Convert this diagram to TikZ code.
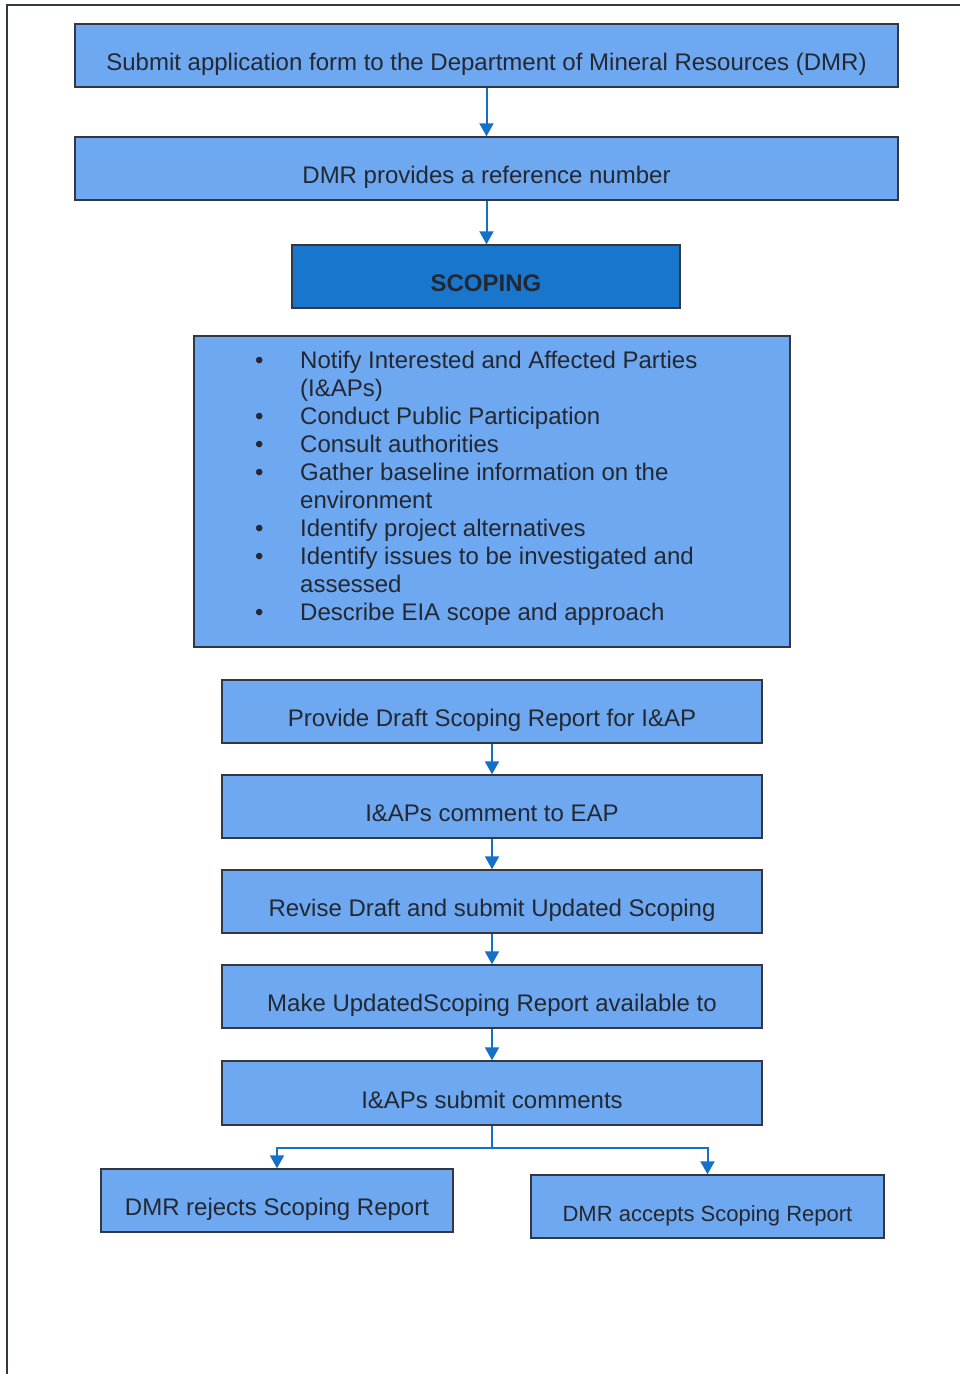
\documentclass[tikz,border=0pt]{standalone}
\usepackage{fontspec}
\setmainfont{Liberation Sans}
\usetikzlibrary{arrows.meta}
\definecolor{boxblue}{RGB}{110,168,240}
\definecolor{darkblue}{RGB}{25,118,205}
\definecolor{arrowblue}{RGB}{20,112,200}
\definecolor{txt}{RGB}{35,40,50}
\definecolor{edge}{RGB}{50,55,65}
\begin{document}
\begin{tikzpicture}[x=1pt,y=-1pt,
  box/.style={draw=edge, line width=1.4pt, fill=boxblue, inner sep=0pt, text=txt,
    font=\fontsize{24}{28}\selectfont, text height=35pt, text depth=5pt, minimum height=63pt},
  flow/.style={draw=arrowblue, line width=2pt, -{Triangle[width=14pt,length=13pt]}},
  frame/.style={draw=edge, line width=1.5pt}
]
\useasboundingbox (0,0) rectangle (960,1374);
\fill[white] (0,0) rectangle (960,1374);
\draw[frame] (7,1374) -- (7,5) -- (960,5);

\node[box, minimum width=823pt] (submit) at (486.5,55.5) {Submit application form to the Department of Mineral Resources (DMR)};
\node[box, minimum width=823pt] (ref) at (486.5,168.5) {DMR provides a reference number};
\node[box, minimum width=388pt, fill=darkblue, font=\fontsize{24}{28}\selectfont\bfseries] (scoping) at (486,276.5) {SCOPING};
\node[box, minimum width=596pt, minimum height=311pt] (list) at (492,491.5) {};
\node[anchor=north west, inner sep=0pt, text=txt, font=\fontsize{24}{28}\selectfont] (listtext) at (255,349) {%
\begin{tabular}{@{}p{45pt}@{}l@{}}
\textbullet & Notify Interested and Affected Parties\\
 & (I\&APs)\\
\textbullet & Conduct Public Participation\\
\textbullet & Consult authorities\\
\textbullet & Gather baseline information on the\\
 & environment\\
\textbullet & Identify project alternatives\\
\textbullet & Identify issues to be investigated and\\
 & assessed\\
\textbullet & Describe EIA scope and approach
\end{tabular}};
\node[box, minimum width=540pt] (draft) at (492,711.5) {Provide Draft Scoping Report for I\&AP};
\node[box, minimum width=540pt] (comment) at (492,806.5) {I\&APs comment to EAP};
\node[box, minimum width=540pt] (revise) at (492,901.5) {Revise Draft and submit Updated Scoping};
\node[box, minimum width=540pt] (make) at (492,996.5) {Make UpdatedScoping Report available to};
\node[box, minimum width=540pt, minimum height=64pt] (submitc) at (492,1093) {I\&APs submit comments};
\node[box, minimum width=352pt] (reject) at (277,1200.5) {DMR rejects Scoping Report};
\node[box, minimum width=353pt, font=\fontsize{22}{26}\selectfont] (accept) at (707.5,1206.5) {DMR accepts Scoping Report};

\draw[flow] (submit) -- (ref);
\draw[flow] (ref.south) -- (ref.south |- scoping.north);
\draw[flow] (draft) -- (comment);
\draw[flow] (comment) -- (revise);
\draw[flow] (revise) -- (make);
\draw[flow] (make) -- (submitc);
\draw[flow] (submitc.south) -- ++(0,22) -| (reject.north);
\draw[flow] (submitc.south) -- ++(0,22) -| (accept.north);
\end{tikzpicture}
\end{document}
